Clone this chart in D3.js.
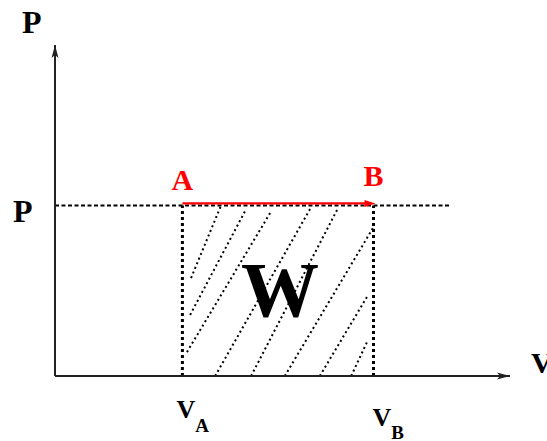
<!DOCTYPE html>
<html>
<head>
<meta charset="utf-8">
<script src="https://cdn.jsdelivr.net/npm/d3@7"></script>
<style>
  html, body { margin: 0; padding: 0; background: #fff; }
  svg { display: block; }
  text { font-family: "Liberation Serif", "Times New Roman", serif; font-weight: bold; }
</style>
</head>
<body>
<svg id="chart" width="547" height="441"></svg>
<script>
// ---- data (chart units) ----
const axisNames = ["P", "V"];
const stateNames = ["A", "B"];
const stateVolumes = [2.8, 7.0];
const pressureValue = 5;
const pressureLabel = "P";
const workLabel = "W";
const guideEnd = 8.7;            // where the dashed pressure guide stops
const xMax = 10, yMax = 9.7;     // axis extents
// hand drawn hatch strokes: [[v0, p0], [v1, p1]]
const hatchLines = [
  [[2.99, 2.87], [3.65, 5.00]],
  [[2.97, 1.79], [4.20, 4.89]],
  [[2.90, 0.70], [4.73, 4.78]],
  [[3.52, 0.00], [5.63, 4.95]],
  [[4.31, 0.00], [6.22, 4.92]],
  [[5.05, 0.00], [6.99, 4.34]],
  [[5.82, 0.00], [6.88, 2.37]],
  [[6.51, 0.00], [6.88, 1.06]]
];

// ---- layout ----
const svg = d3.select("#chart");
const x = d3.scaleLinear().domain([0, xMax]).range([55, 510]);
const y = d3.scaleLinear().domain([0, yMax]).range([376, 45]);
const line = d3.line().x(d => x(d[0])).y(d => y(d[1]));

// hatch
svg.append("g").selectAll("path").data(hatchLines).join("path")
  .attr("d", d => line(d))
  .attr("fill", "none").attr("stroke", "#000").attr("stroke-width", 2)
  .attr("stroke-dasharray", "2,3");

// vertical dotted box sides
svg.append("g").selectAll("path").data(stateVolumes).join("path")
  .attr("d", v => line([[v, 0], [v, pressureValue]]))
  .attr("fill", "none").attr("stroke", "#000").attr("stroke-width", 3)
  .attr("stroke-dasharray", "3,3");

// pressure dashed guide
svg.append("path")
  .attr("d", line([[0, pressureValue], [guideEnd, pressureValue]]))
  .attr("fill", "none").attr("stroke", "#000").attr("stroke-width", 2)
  .attr("stroke-dasharray", "4,2.5");

// axes
const axisColor = "#222";
svg.append("path").attr("d", line([[0, 0], [xMax, 0]]))
  .attr("stroke", axisColor).attr("stroke-width", 2).attr("fill", "none");
svg.append("path").attr("d", line([[0, 0], [0, yMax]]))
  .attr("stroke", axisColor).attr("stroke-width", 2).attr("fill", "none");
// arrow heads
const xt = [x(xMax), y(0)], yt = [x(0), y(yMax)];
svg.append("path")
  .attr("d", `M${xt[0]},${xt[1]} L${xt[0] - 13},${xt[1] - 3.5} L${xt[0] - 10},${xt[1]} L${xt[0] - 13},${xt[1] + 3.5} Z`)
  .attr("fill", axisColor);
svg.append("path")
  .attr("d", `M${yt[0]},${yt[1]} L${yt[0] - 3.5},${yt[1] + 13} L${yt[0]},${yt[1] + 10} L${yt[0] + 3.5},${yt[1] + 13} Z`)
  .attr("fill", axisColor);

// red process arrow A -> B
const ay = y(pressureValue) - 2;
const ax0 = x(stateVolumes[0]), ax1 = x(stateVolumes[1]) + 2;
svg.append("line").attr("x1", ax0).attr("x2", ax1 - 6).attr("y1", ay).attr("y2", ay)
  .attr("stroke", "#ff0000").attr("stroke-width", 2.2);
svg.append("path")
  .attr("d", `M${ax1},${ay} L${ax1 - 11},${ay - 3.5} L${ax1 - 11},${ay + 3.5} Z`)
  .attr("fill", "#ff0000");

// state labels
const stateDy = [-15, -19];
svg.append("g").selectAll("text").data(stateNames).join("text")
  .attr("x", (d, i) => x(stateVolumes[i]))
  .attr("y", (d, i) => y(pressureValue) + stateDy[i])
  .attr("text-anchor", "middle").attr("font-size", 30).attr("fill", "#ff0000")
  .text(d => d);

// volume tick labels V_A, V_B
const volDx = [-6, -1], volDy = [42, 50], subDy = [14, 12.5];
const vt = svg.append("g").selectAll("text").data(stateNames).join("text")
  .attr("x", (d, i) => x(stateVolumes[i]) + volDx[i])
  .attr("y", (d, i) => y(0) + volDy[i])
  .attr("font-size", 26).attr("fill", "#000");
vt.append("tspan").text(axisNames[1]);
vt.append("tspan").attr("font-size", 19).attr("dy", (d, i) => subDy[i]).text(d => d);

// pressure tick label
svg.append("text").attr("x", 13).attr("y", y(pressureValue) + 17)
  .attr("font-size", 32).attr("fill", "#000").text(pressureLabel);

// axis names
svg.append("text").attr("x", 22).attr("y", 33)
  .attr("font-size", 32).attr("fill", "#000").text(axisNames[0]);
svg.append("text").attr("x", 531).attr("y", 373)
  .attr("font-size", 30).attr("fill", "#000").text(axisNames[1]);

// work label
svg.append("text").attr("x", (x(stateVolumes[0]) + x(stateVolumes[1])) / 2 + 2)
  .attr("y", 316).attr("text-anchor", "middle")
  .attr("font-size", 78).attr("fill", "#000").text(workLabel);
</script>
</body>
</html>
